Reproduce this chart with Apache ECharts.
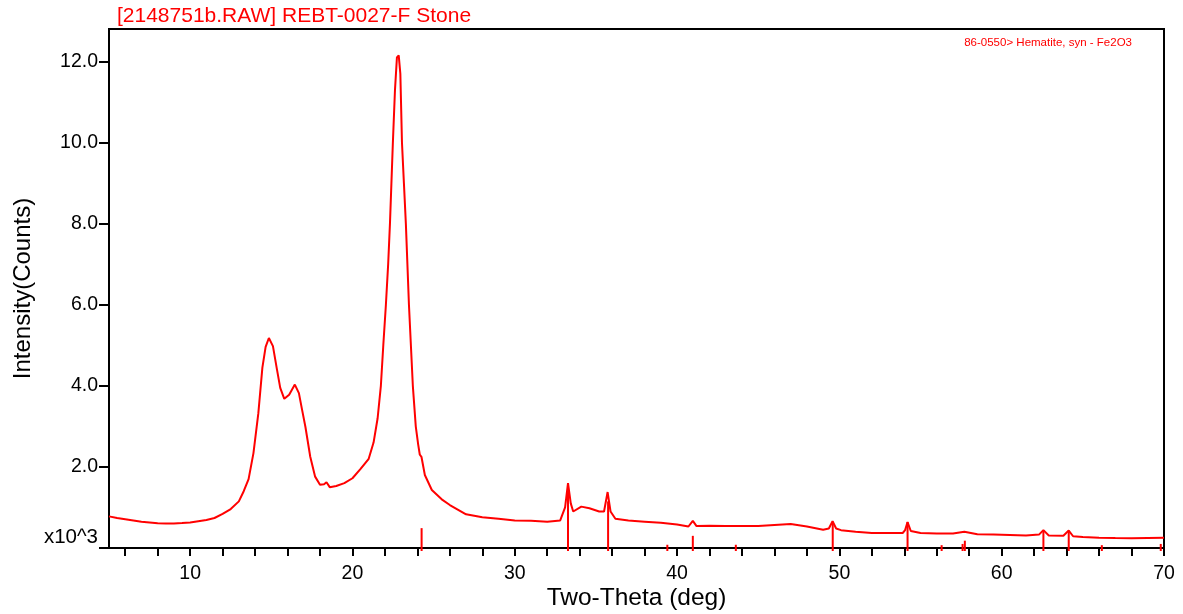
<!DOCTYPE html>
<html>
<head>
<meta charset="utf-8">
<title>REBT-0027-F Stone</title>
<script src="https://cdn.jsdelivr.net/npm/echarts@6/dist/echarts.min.js"></script>
<style>
  html, body { margin: 0; padding: 0; background: #fff; }
  #main { width: 1183px; height: 614px; }
</style>
</head>
<body>
<div id="main"></div>
<script>
// scan (2-theta in deg, counts)
const twoTheta = [
  5.0, 5.5, 6.0, 6.5, 7.0, 7.5, 8.0, 8.5, 9.0, 9.5, 10.0, 10.5, 11.0, 11.5, 12.0, 12.5, 13.0, 13.3, 13.6, 13.9,
  14.2, 14.45, 14.65, 14.85, 15.1, 15.35, 15.55, 15.8, 16.1, 16.45, 16.7, 16.9, 17.1, 17.4, 17.7, 18.0, 18.25, 18.4, 18.6, 19.0,
  19.5, 20.0, 20.5, 21.0, 21.3, 21.55, 21.75, 21.9, 22.06, 22.2, 22.31, 22.49, 22.62, 22.74, 22.85, 22.95, 23.05, 23.17, 23.29, 23.48,
  23.72, 23.9, 24.05, 24.15, 24.25, 24.46, 24.89, 25.5, 26.0, 27.0, 28.0, 29.0, 30.0, 31.0, 32.0, 32.8, 33.1, 33.28, 33.45, 33.6,
  34.1, 34.6, 35.2, 35.5, 35.72, 35.9, 36.2, 37.0, 38.0, 39.0, 40.0, 40.7, 40.97, 41.2, 42.0, 43.0, 44.0, 45.0, 46.0, 47.0,
  48.0, 49.0, 49.35, 49.58, 49.8, 50.1, 51.0, 52.0, 53.0, 53.9, 54.05, 54.2, 54.4, 55.0, 56.0, 57.0, 57.7, 58.5, 59.5, 60.5,
  61.5, 62.3, 62.57, 62.9, 63.8, 64.13, 64.4, 65.0, 66.0, 67.0, 68.0, 69.0, 70.0
]
const counts = [
  780, 740, 710, 680, 650, 630, 610, 605, 605, 615, 630, 660, 690, 740, 840, 960, 1150, 1400, 1700, 2340,
  3320, 4450, 4960, 5180, 4980, 4400, 3950, 3680, 3780, 4030, 3820, 3400, 2990, 2250, 1760, 1560, 1570, 1620, 1500, 1530,
  1600, 1720, 1950, 2200, 2600, 3200, 4000, 5000, 6000, 7000, 8000, 10000, 11300, 12100, 12150, 11700, 10000, 9000, 8000, 6000,
  4000, 3000, 2550, 2300, 2250, 1800, 1430, 1200, 1060, 830, 760, 720, 680, 670, 650, 680, 1000, 1600, 1100, 900,
  1020, 980, 900, 900, 1380, 900, 720, 680, 650, 620, 580, 530, 670, 540, 550, 545, 540, 540, 570, 590,
  530, 450, 480, 660, 480, 440, 400, 370, 370, 370, 440, 640, 420, 370, 360, 360, 400, 340, 330, 320,
  310, 330, 440, 310, 300, 430, 290, 270, 255, 245, 240, 245, 250
]

// reference card sticks
const cardName = '86-0550> Hematite, syn - Fe2O3'
const cardPos = [24.26, 33.28, 35.75, 39.4, 40.97, 43.62, 49.59, 54.2, 56.3, 57.59, 57.73, 62.57, 64.13, 66.17, 69.8]
const cardCounts = [490, 1600, 1150, 80, 300, 80, 650, 640, 70, 100, 180, 440, 430, 70, 100]

// ticks and labels
const xTicks = [6, 8, 10, 12, 14, 16, 18, 20, 22, 24, 26, 28, 30, 32, 34, 36, 38, 40, 42, 44, 46, 48, 50, 52, 54, 56, 58, 60, 62, 64, 66, 68, 70]
const xLabels = [10, 20, 30, 40, 50, 60, 70]
const yTicks = [0, 2000, 4000, 6000, 8000, 10000, 12000]
const yLabels = [2000, 4000, 6000, 8000, 10000, 12000]

const font = 'Liberation Sans'
const red = '#ff0000'

const chart = echarts.init(document.getElementById('main'))
const option = {
  animation: false,
  textStyle: { fontFamily: font },
  title: {
    text: '[2148751b.RAW] REBT-0027-F Stone',
    left: 112,
    top: 1,
    textStyle: { color: red, fontSize: 21, fontWeight: 'normal', fontFamily: font }
  },
  legend: {
    data: [{ name: cardName, icon: 'none' }],
    right: 46,
    top: 31,
    selectedMode: false,
    textStyle: { color: red, fontSize: 11.5, fontFamily: font }
  },
  grid: {
    left: 109,
    right: 19,
    top: 29,
    bottom: 66,
    outerBoundsMode: 'none',
    show: true,
    borderColor: '#000',
    borderWidth: 2
  },
  xAxis: {
    type: 'value',
    min: 5,
    max: 70,
    offset: 2,
    axisLine: { show: false },
    splitLine: { show: false },
    axisTick: { customValues: xTicks, length: 8, lineStyle: { color: '#000', width: 2 } },
    axisLabel: { customValues: xLabels, margin: 14, fontSize: 19.5, color: '#000', fontFamily: font },
    name: 'Two-Theta (deg)',
    nameLocation: 'middle',
    nameGap: 36,
    nameMoveOverlap: false,
    nameTextStyle: { fontSize: 24.5, color: '#000', fontFamily: font }
  },
  yAxis: {
    type: 'value',
    min: 0,
    max: 12800,
    axisLine: { show: false },
    splitLine: { show: false },
    axisTick: { customValues: yTicks, length: 10, lineStyle: { color: '#000', width: 2 } },
    axisLabel: {
      customValues: yLabels,
      margin: 11,
      fontSize: 19.5,
      color: '#000',
      fontFamily: font,
      formatter: v => (v / 1000).toFixed(1)
    },
    name: 'Intensity(Counts)',
    nameLocation: 'middle',
    nameGap: 74,
    nameMoveOverlap: false,
    nameTextStyle: { fontSize: 24, color: '#000', fontFamily: font }
  },
  graphic: [
    {
      type: 'text',
      x: 98,
      y: 548,
      style: { text: 'x10^3', fontSize: 20.5, fontFamily: font, fill: '#000', align: 'right', verticalAlign: 'bottom' }
    }
  ],
  series: [
    {
      name: 'scan',
      type: 'line',
      data: twoTheta.map((t, i) => [t, counts[i]]),
      showSymbol: false,
      lineStyle: { color: red, width: 2 },
      itemStyle: { color: red },
      z: 3
    },
    {
      name: cardName,
      type: 'custom',
      data: cardPos.map((p, i) => [p, cardCounts[i]]),
      itemStyle: { color: red },
      renderItem: function (params, api) {
        const top = api.coord([api.value(0), api.value(1)])
        const base = api.coord([api.value(0), 0])
        return {
          type: 'line',
          shape: { x1: base[0], y1: base[1] + 3, x2: top[0], y2: top[1] },
          style: { stroke: red, lineWidth: 2 }
        }
      },
      z: 4
    }
  ]
}
chart.setOption(option)
</script>
</body>
</html>
